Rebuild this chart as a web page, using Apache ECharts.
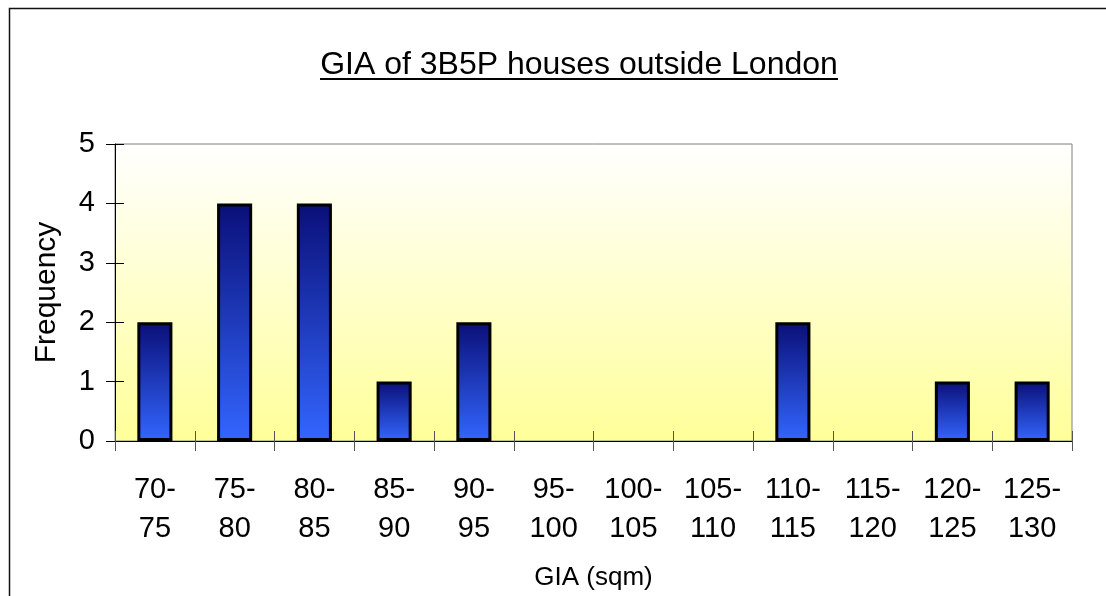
<!DOCTYPE html>
<html>
<head>
<meta charset="utf-8">
<title>GIA of 3B5P houses outside London</title>
<script src="https://cdn.jsdelivr.net/npm/echarts@6/dist/echarts.min.js"></script>
<style>
  html, body { margin: 0; padding: 0; background: #fff; }
  #chart { width: 1106px; height: 596px; }
</style>
</head>
<body>
<div id="chart"></div>
<script>
// bins (sqm) and how many houses fall in each
const categories = [
  '70-\n75', '75-\n80', '80-\n85', '85-\n90', '90-\n95', '95-\n100',
  '100-\n105', '105-\n110', '110-\n115', '115-\n120', '120-\n125', '125-\n130'
]
const frequency = [2, 4, 4, 1, 2, 0, 0, 0, 2, 0, 1, 1]
const yTicks = { min: 0, max: 5, interval: 1 }

const titleText = 'GIA of 3B5P houses outside London'
const font = "'Liberation Sans', Arial, sans-serif"

const chart = echarts.init(document.getElementById('chart'))

const barFill = new echarts.graphic.LinearGradient(0, 0, 0, 1, [
  { offset: 0, color: '#0a0f78' },
  { offset: 1, color: '#3366ff' }
])
const plotFill = new echarts.graphic.LinearGradient(0, 0, 0, 1, [
  { offset: 0, color: '#ffffff' },
  { offset: 1, color: '#ffff99' }
])

// empty bins get no outline (otherwise a flat black stub shows on the axis)
const barData = frequency.map(v => (v === 0 ? { value: 0, itemStyle: { borderWidth: 0 } } : v))

const option = {
  backgroundColor: '#ffffff',
  animation: false,
  textStyle: { fontFamily: font },
  graphic: [
    // outer chart frame
    {
      type: 'rect',
      shape: { x: 9.5, y: 8.5, width: 1200, height: 700 },
      style: { fill: 'none', stroke: '#111', lineWidth: 1.5 },
      silent: true
    },
    {
      type: 'text',
      x: 579,
      y: 65,
      style: {
        text: titleText,
        fontFamily: font,
        fontSize: 32,
        fill: '#000',
        align: 'center',
        verticalAlign: 'middle'
      }
    },
    // underline under the title
    {
      type: 'line',
      shape: { x1: 320, y1: 79, x2: 838, y2: 79 },
      style: { stroke: '#000', lineWidth: 2 }
    }
  ],
  grid: {
    left: 115,
    right: 34,
    top: 144,
    bottom: 152,
    show: true,
    backgroundColor: plotFill,
    borderColor: '#808080',
    borderWidth: 1
  },
  xAxis: [
    {
      type: 'category',
      data: categories,
      name: 'GIA (sqm)',
      nameLocation: 'middle',
      nameGap: 124,
      nameTextStyle: { fontSize: 26, color: '#000', fontFamily: font },
      axisLine: { lineStyle: { color: '#000', width: 1 } },
      axisTick: { show: true, interval: 0, length: 10, lineStyle: { color: '#555' } },
      axisLabel: {
        interval: 0,
        margin: 29,
        fontSize: 29,
        lineHeight: 39,
        color: '#000',
        fontFamily: font
      }
    },
    {
      // inward half of the crossing ticks
      type: 'category',
      data: categories,
      position: 'bottom',
      axisLine: { show: false },
      axisTick: { show: true, inside: true, interval: 0, length: 10, lineStyle: { color: '#555' } },
      axisLabel: { show: false }
    }
  ],
  yAxis: [
    {
      type: 'value',
      min: yTicks.min,
      max: yTicks.max,
      interval: yTicks.interval,
      name: 'Frequency',
      nameLocation: 'middle',
      nameGap: 53,
      nameTextStyle: { fontSize: 30, color: '#000', fontFamily: font },
      axisLine: { show: true, lineStyle: { color: '#000', width: 1 } },
      axisTick: { show: true, length: 9, lineStyle: { color: '#000' } },
      axisLabel: { margin: 20, fontSize: 29, color: '#000', fontFamily: font },
      splitLine: { show: false }
    },
    {
      type: 'value',
      min: yTicks.min,
      max: yTicks.max,
      interval: yTicks.interval,
      position: 'left',
      axisLine: { show: false },
      axisTick: { show: true, inside: true, length: 9, lineStyle: { color: '#000' } },
      axisLabel: { show: false },
      splitLine: { show: false }
    }
  ],
  series: [
    {
      type: 'bar',
      data: barData,
      barWidth: '44%',
      itemStyle: {
        color: barFill,
        borderColor: '#000',
        borderWidth: 3
      }
    }
  ]
}

chart.setOption(option)
</script>
</body>
</html>
